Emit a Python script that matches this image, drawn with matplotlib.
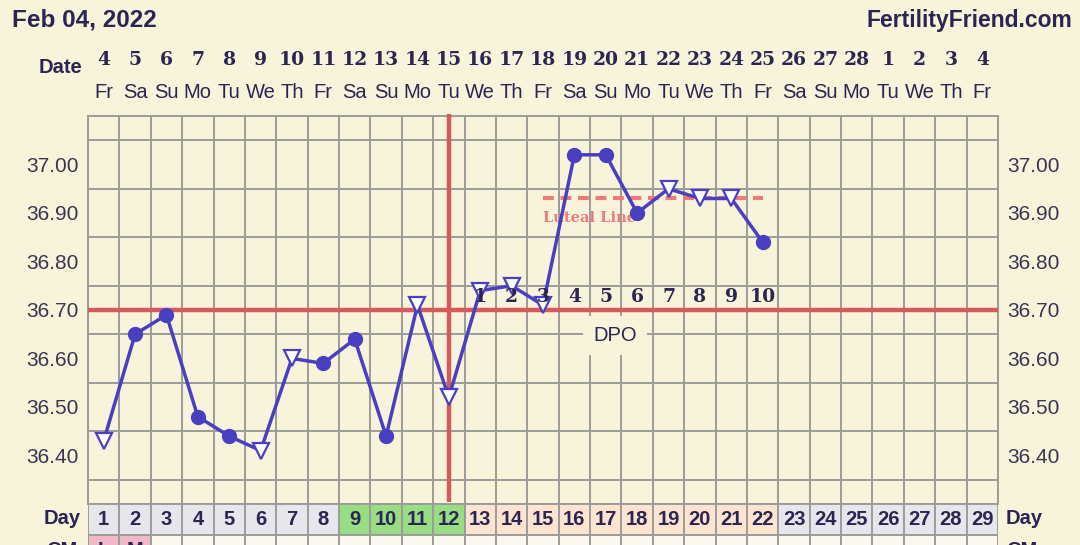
import numpy as np
import matplotlib.pyplot as plt
from matplotlib.patches import Rectangle

plt.rcParams['font.family'] = ['Liberation Sans', 'DejaVu Sans']

# chart data
dates = ["4", "5", "6", "7", "8", "9", "10", "11", "12", "13", "14", "15", "16", "17",
         "18", "19", "20", "21", "22", "23", "24", "25", "26", "27", "28", "1", "2", "3", "4"]
weekdays = ["Fr", "Sa", "Su", "Mo", "Tu", "We", "Th"] * 4 + ["Fr"]
cycle_days = list(range(1, 30))
temp_days = list(range(1, 23))
temps = [36.43, 36.65, 36.69, 36.48, 36.44, 36.41, 36.60, 36.59, 36.64, 36.44, 36.71,
         36.52, 36.74, 36.75, 36.71, 37.02, 37.02, 36.90, 36.95, 36.93, 36.93, 36.84]
open_days = [1, 6, 7, 11, 12, 13, 14, 15, 19, 20, 21]   # hollow triangle markers
coverline = 36.70
ovulation_day = 12
luteal_level = 36.93
luteal_span = (15, 22)
dpo_labels = [str(i) for i in range(1, 11)]
dpo_days = list(range(13, 23))
fertile_days = [9, 10, 11, 12]
luteal_days = list(range(13, 23))
cm_labels = {1: "L", 2: "M"}

# colours
BG = "#f8f4dc"
GRID = "#9c9c98"
NAVY = "#2b2552"
RED = "#d65a5c"
BLUE = "#4a3fc0"
SALMON = "#ef7a78"

W, H = 1080, 545
fig = plt.figure(figsize=(W / 100, H / 100), dpi=100, facecolor=BG)

left, right, top, bottom = 88, 998, 116, 504
ax = fig.add_axes([left / W, 1 - bottom / H, (right - left) / W, (bottom - top) / H])
ax.set_facecolor(BG)
ax.set_xlim(0.5, 29.5)
ax.set_ylim(36.30, 37.10)

ax.set_xticks(np.arange(0.5, 30, 1), minor=True)
ax.set_xticks([])
ax.set_yticks(np.arange(36.30, 37.101, 0.05), minor=True)
ax.set_yticks([36.4, 36.5, 36.6, 36.7, 36.8, 36.9, 37.0])
ax.set_yticklabels(["%.2f" % v for v in ax.get_yticks()])
ax.grid(which="minor", color=GRID, lw=1.4)
ax.tick_params(which="both", length=0)
ax.tick_params(axis="y", labelleft=True, labelright=True, pad=7,
               labelsize=15, labelcolor="#3a3550")
for sp in ax.spines.values():
    sp.set_color(GRID)
    sp.set_linewidth(1.4)

# coverline and ovulation line
ax.axhline(coverline, color=RED, lw=3.2, zorder=3)
ax.plot([ovulation_day, ovulation_day], [36.305, 37.105], color=RED, lw=3.2,
        zorder=3, clip_on=False, solid_capstyle="butt")

# luteal line
ax.plot(luteal_span, [luteal_level, luteal_level], color=SALMON, lw=3,
        ls=(0, (2.6, 1.6)), zorder=3)
ax.text(luteal_span[0], 36.89, "Luteal Line", color=SALMON, fontsize=10.5,
        fontweight="bold", family="DejaVu Serif", ha="left", va="center", zorder=3)

# temperatures
ax.plot(temp_days, temps, color=BLUE, lw=2.5, zorder=4)
closed = [(d, t) for d, t in zip(temp_days, temps) if d not in open_days]
hollow = [(d, t) for d, t in zip(temp_days, temps) if d in open_days]
ax.plot([d for d, _ in closed], [t for _, t in closed], "o", color=BLUE,
        ms=10, zorder=5)
ax.plot([d for d, _ in hollow], [t for _, t in hollow], "v", mfc="white",
        mec=BLUE, mew=1.6, ms=12, zorder=5)

# DPO labels
for d, lab in zip(dpo_days, dpo_labels):
    ax.text(d, 36.726, lab, ha="center", va="center", fontsize=13.5,
            fontweight="bold", family="DejaVu Serif", color=NAVY, zorder=6)
ax.text(17.3, 36.647, "DPO", ha="center", va="center", fontsize=14.5, color=NAVY,
        zorder=6, bbox=dict(boxstyle="square,pad=0.5", fc=BG, ec="none"))

# date rows on top
trans = ax.get_xaxis_transform()
for d, dt, wd in zip(cycle_days, dates, weekdays):
    ax.text(d, 1 + (top - 60) / (bottom - top), dt, transform=trans, ha="center",
            va="center", fontsize=13.5, fontweight="bold", family="DejaVu Serif",
            color=NAVY, clip_on=False)
    ax.text(d, 1 + (top - 92) / (bottom - top), wd, transform=trans, ha="center",
            va="center", fontsize=14.5, color=NAVY, clip_on=False)
fig.text(60 / W, 1 - 67 / H, "Date", ha="center", va="center", fontsize=14.5,
         fontweight="bold", color=NAVY)

fig.text(12 / W, 1 - 20 / H, "Feb 04, 2022", ha="left", va="center",
         fontsize=17.5, fontweight="bold", color=NAVY)
fig.text(1072 / W, 1 - 20 / H, "FertilityFriend.com", ha="right", va="center",
         fontsize=16.5, fontweight="bold", color=NAVY)

# bottom rows: cycle day and CM
row_h = 31
bx = fig.add_axes([left / W, 1 - (bottom + 2 * row_h) / H, (right - left) / W,
                   2 * row_h / H])
bx.set_xlim(0.5, 29.5)
bx.set_ylim(0, 2)
bx.axis("off")
for d in cycle_days:
    if d in fertile_days:
        fc = "#98dc84"
    elif d in luteal_days:
        fc = "#fde4d0"
    else:
        fc = "#e6e6ec"
    bx.add_patch(Rectangle((d - 0.5, 1), 1, 1, fc=fc, ec=GRID, lw=1.4))
    bx.text(d, 1.5, str(d), ha="center", va="center", fontsize=14.5,
            fontweight="bold", color=NAVY)
    cfc = "#f2b8c8" if d in cm_labels else "#fbf9ef"
    bx.add_patch(Rectangle((d - 0.5, 0), 1, 1, fc=cfc, ec=GRID, lw=1.4))
    if d in cm_labels:
        bx.text(d, 0.5, cm_labels[d], ha="center", va="center", fontsize=14.5,
                fontweight="bold", color=NAVY)
fig.text(62 / W, 1 - 518 / H, "Day", ha="center", va="center", fontsize=14.5,
         fontweight="bold", color=NAVY)
fig.text(1006 / W, 1 - 518 / H, "Day", ha="left", va="center", fontsize=14.5,
         fontweight="bold", color=NAVY)
fig.text(62 / W, 1 - 551 / H, "CM", ha="center", va="center", fontsize=14.5,
         fontweight="bold", color=NAVY)
fig.text(1006 / W, 1 - 551 / H, "CM", ha="left", va="center", fontsize=14.5,
         fontweight="bold", color=NAVY)

fig.savefig("out.png", dpi=100, facecolor=BG)
